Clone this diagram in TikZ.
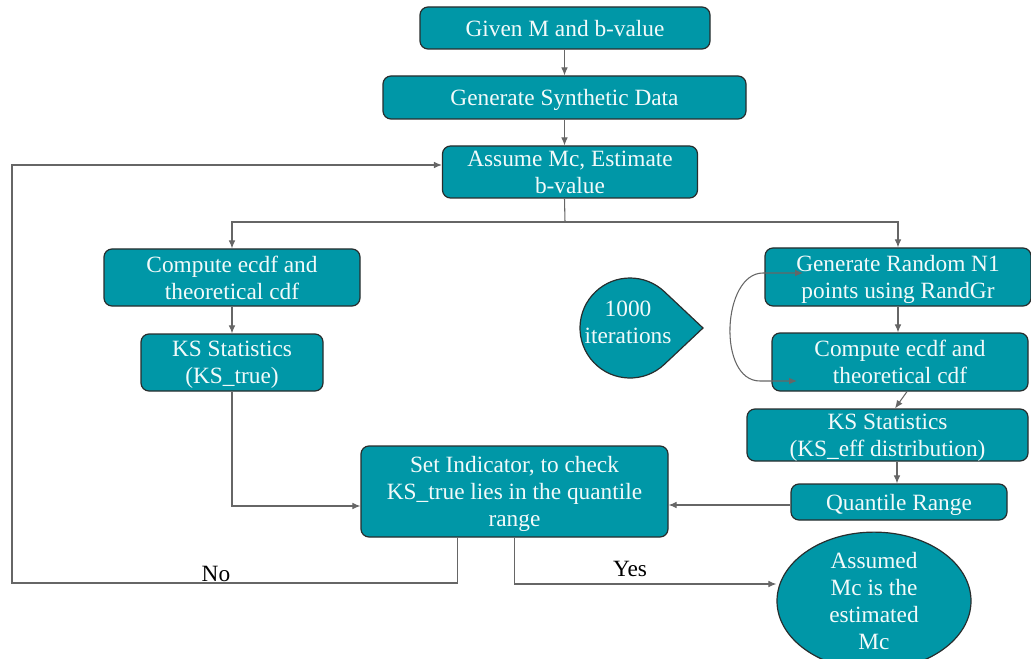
\documentclass[tikz,border=0pt]{standalone}
\usepackage{fontspec}
\setmainfont{Liberation Serif}
\usetikzlibrary{shapes.geometric,arrows.meta,calc}
\definecolor{teal}{RGB}{0,151,167}
\definecolor{edge}{RGB}{40,45,45}
\definecolor{conn}{RGB}{102,102,102}
\definecolor{ntext}{RGB}{242,250,250}
\begin{document}
\begin{tikzpicture}[x=0.75pt,y=-0.75pt,
  font=\fontsize{17.5pt}{20.25pt}\selectfont,
  box/.style={draw=edge,fill=teal,text=ntext,rounded corners=6pt,line width=0.9pt,align=center,inner xsep=2pt,inner ysep=0pt,text depth=0pt},
  sz/.style 2 args={minimum width=#1*0.75pt,minimum height=#2*0.75pt},
  arr/.style={draw=conn,line width=0.8pt,-{Latex[length=6pt,width=5pt]}},
  ln/.style={draw=conn,line width=0.8pt},
  lbl/.style={text=black}]
\useasboundingbox (0,0) rectangle (1031,659);

\node[box,sz={290}{42}] (given) at (565,28) {Given M and b-value};
\node[box,sz={363}{43}] (synth) at (564.5,97.5) {Generate Synthetic Data};
\node[box,sz={255}{52}] (assume) at (570,172) {Assume Mc, Estimate\\b-value};
\node[box,sz={256}{57}] (cl) at (232,277.5) {Compute ecdf and\\theoretical cdf};
\node[box,sz={182}{57}] (ksl) at (232,362.5) {KS Statistics\\(KS\_true)};
\node[box,sz={307}{91}] (ind) at (514.5,491.5) {Set Indicator, to check\\KS\_true lies in the quantile\\range};
\node[box,sz={266}{58}] (gr) at (898,277) {Generate Random N1\\points using RandGr};
\node[box,sz={256}{58}] (cr) at (900,362) {Compute ecdf and\\theoretical cdf};
\node[box,sz={281}{52}] (kse) at (887.5,435) {KS Statistics\\(KS\_eff distribution)};
\node[box,sz={216}{36}] (qr) at (899,502) {Quantile Range};
\node[draw=edge,fill=teal,text=ntext,ellipse,line width=0.9pt,align=center,inner sep=0pt,sz={194}{122}] (ell) at (874,601) {Assumed\\Mc is the\\estimated\\Mc};

% teardrop
\draw[draw=edge,fill=teal,line width=0.9pt] (703,328) -- ($(630,328)+(46.8:50)$) arc[start angle=46.8,end angle=313.2,radius=50] -- cycle;
\node[text=ntext,align=center] (iter) at (628,322) {1000\\iterations};

% connectors
\draw[arr] (given.south -| synth.south) -- (synth.north);
\draw[arr] (synth.south) -- (synth.south |- assume.north);
\coordinate (split) at (565,222);
\draw[ln] (synth.south |- assume.south) -- (split);
\draw[arr] (split) -| (cl.north);
\draw[arr] (split) -| (gr.north);
\draw[arr] (cl) -- (ksl);
\draw[arr] (ksl.south) |- ($(ind.west)+(0,14.5)$);
\draw[arr] (gr) -- (gr.south |- cr.north);
\draw[arr] ($(cr.south)+(7,0)$) -- ($(kse.north)+(7.5,0)$);
\coordinate (kq) at ($(kse.south)+(9.5,0)$);
\draw[arr] (kq) -- (kq |- qr.north);
\coordinate (qa) at ($(qr.west)+(0,3)$);
\draw[arr] (qa) -- (qa -| ind.east);

% loop
\coordinate (la) at (803,273);
\coordinate (lb) at (763,273);
\coordinate (lc) at (760,381);
\coordinate (ld) at (797,381);
\draw[draw=conn,line width=0.8pt,{Latex[length=6pt,width=5pt]}-{Latex[length=6pt,width=5pt]}] (la) -- (lb) .. controls (722,273) and (717,381) .. (lc) -- (ld);

% No
\coordinate (nb) at ($(ind.south)+(-57,0)$);
\coordinate (nl) at (12,583);
\coordinate (nt) at (12,165);
\draw[arr] (nb) |- (nl) -- (nt) -- (nt -| assume.west);
\node[lbl] (no) at (216,574) {No};

% Yes
\coordinate (yc) at (514.5,584);
\draw[arr] (ind.south) -- (yc) -- (yc -| ell.west);
\node[lbl] (yes) at (630,569) {Yes};
\end{tikzpicture}
\end{document}
